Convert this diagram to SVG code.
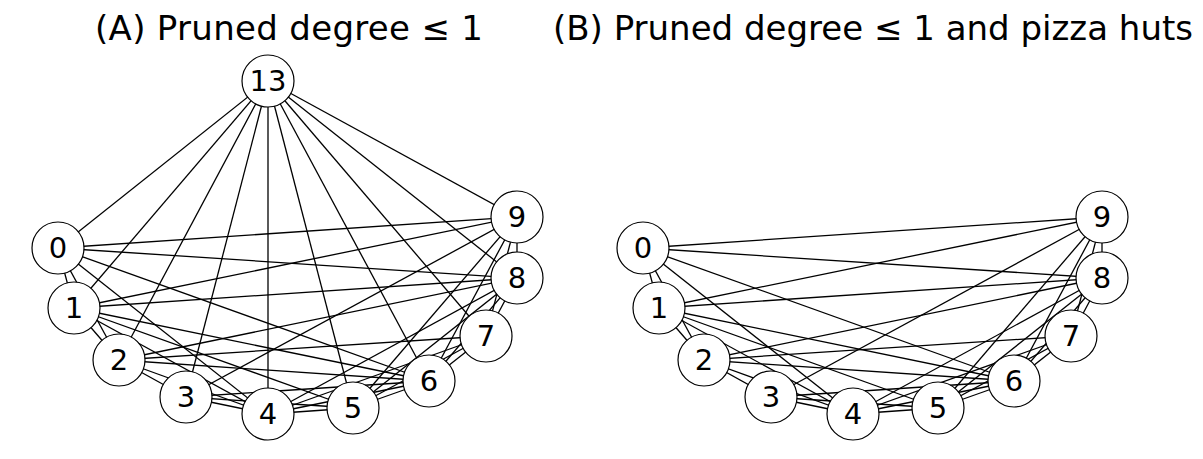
<svg xmlns="http://www.w3.org/2000/svg" width="1203" height="459" viewBox="0 0 1203 459">
<style>
.e{stroke:#000;stroke-width:1.3;fill:none}
.n circle{fill:#fff;stroke:#000;stroke-width:1.2}
.n text{font-family:"DejaVu Sans",sans-serif;font-size:29px;text-anchor:middle;dominant-baseline:central;fill:#000}
.t{font-family:"DejaVu Sans",sans-serif;font-size:34px;fill:#000}
</style>
<rect width="1203" height="459" fill="#fff"/>
<text class="t" x="95" y="40" textLength="388" lengthAdjust="spacing">(A) Pruned degree ≤ 1</text>
<text class="t" x="553" y="40" textLength="640" lengthAdjust="spacing">(B) Pruned degree ≤ 1 and pizza huts</text>
<defs>
<g id="edges10">
<line class="e" x1="58" y1="248" x2="74" y2="308"/>
<line class="e" x1="58" y1="248" x2="119" y2="360"/>
<line class="e" x1="58" y1="248" x2="268" y2="414"/>
<line class="e" x1="58" y1="248" x2="429" y2="381"/>
<line class="e" x1="58" y1="248" x2="517" y2="278"/>
<line class="e" x1="58" y1="248" x2="517" y2="217"/>
<line class="e" x1="74" y1="308" x2="119" y2="360"/>
<line class="e" x1="74" y1="308" x2="268" y2="414"/>
<line class="e" x1="74" y1="308" x2="353" y2="408"/>
<line class="e" x1="74" y1="308" x2="429" y2="381"/>
<line class="e" x1="74" y1="308" x2="517" y2="278"/>
<line class="e" x1="74" y1="308" x2="517" y2="217"/>
<line class="e" x1="119" y1="360" x2="186" y2="397"/>
<line class="e" x1="119" y1="360" x2="268" y2="414"/>
<line class="e" x1="119" y1="360" x2="429" y2="381"/>
<line class="e" x1="119" y1="360" x2="486" y2="336"/>
<line class="e" x1="119" y1="360" x2="517" y2="278"/>
<line class="e" x1="186" y1="397" x2="268" y2="414"/>
<line class="e" x1="186" y1="397" x2="353" y2="408"/>
<line class="e" x1="186" y1="397" x2="429" y2="381"/>
<line class="e" x1="186" y1="397" x2="517" y2="217"/>
<line class="e" x1="268" y1="414" x2="353" y2="408"/>
<line class="e" x1="268" y1="414" x2="429" y2="381"/>
<line class="e" x1="268" y1="414" x2="486" y2="336"/>
<line class="e" x1="268" y1="414" x2="517" y2="278"/>
<line class="e" x1="353" y1="408" x2="429" y2="381"/>
<line class="e" x1="353" y1="408" x2="486" y2="336"/>
<line class="e" x1="353" y1="408" x2="517" y2="278"/>
<line class="e" x1="353" y1="408" x2="517" y2="217"/>
<line class="e" x1="429" y1="381" x2="486" y2="336"/>
<line class="e" x1="429" y1="381" x2="517" y2="278"/>
<line class="e" x1="429" y1="381" x2="517" y2="217"/>
<line class="e" x1="486" y1="336" x2="517" y2="278"/>
<line class="e" x1="486" y1="336" x2="517" y2="217"/>
<line class="e" x1="517" y1="278" x2="517" y2="217"/>
</g>
</defs>
<g id="connectors">
<g id="connectorsA">
<use href="#edges10"/>
<line class="e" x1="268" y1="81" x2="58" y2="248"/>
<line class="e" x1="268" y1="81" x2="74" y2="308"/>
<line class="e" x1="268" y1="81" x2="119" y2="360"/>
<line class="e" x1="268" y1="81" x2="186" y2="397"/>
<line class="e" x1="268" y1="81" x2="268" y2="414"/>
<line class="e" x1="268" y1="81" x2="353" y2="408"/>
<line class="e" x1="268" y1="81" x2="429" y2="381"/>
<line class="e" x1="268" y1="81" x2="486" y2="336"/>
<line class="e" x1="268" y1="81" x2="517" y2="278"/>
<line class="e" x1="268" y1="81" x2="517" y2="217"/>
</g>
<g id="connectorsB" transform="translate(585,0)">
<use href="#edges10"/>
</g>
</g>
<g id="nodesA">
<g id="a13" class="n"><circle cx="268" cy="81" r="26"/><text x="268" y="81">13</text></g>
<g id="a0" class="n"><circle cx="58" cy="248" r="26"/><text x="58" y="248">0</text></g>
<g id="a1" class="n"><circle cx="74" cy="308" r="26"/><text x="74" y="308">1</text></g>
<g id="a2" class="n"><circle cx="119" cy="360" r="26"/><text x="119" y="360">2</text></g>
<g id="a3" class="n"><circle cx="186" cy="397" r="26"/><text x="186" y="397">3</text></g>
<g id="a4" class="n"><circle cx="268" cy="414" r="26"/><text x="268" y="414">4</text></g>
<g id="a5" class="n"><circle cx="353" cy="408" r="26"/><text x="353" y="408">5</text></g>
<g id="a6" class="n"><circle cx="429" cy="381" r="26"/><text x="429" y="381">6</text></g>
<g id="a7" class="n"><circle cx="486" cy="336" r="26"/><text x="486" y="336">7</text></g>
<g id="a8" class="n"><circle cx="517" cy="278" r="26"/><text x="517" y="278">8</text></g>
<g id="a9" class="n"><circle cx="517" cy="217" r="26"/><text x="517" y="217">9</text></g>
</g>
<g id="nodesB" transform="translate(585,0)">
<g id="b0" class="n"><circle cx="58" cy="248" r="26"/><text x="58" y="248">0</text></g>
<g id="b1" class="n"><circle cx="74" cy="308" r="26"/><text x="74" y="308">1</text></g>
<g id="b2" class="n"><circle cx="119" cy="360" r="26"/><text x="119" y="360">2</text></g>
<g id="b3" class="n"><circle cx="186" cy="397" r="26"/><text x="186" y="397">3</text></g>
<g id="b4" class="n"><circle cx="268" cy="414" r="26"/><text x="268" y="414">4</text></g>
<g id="b5" class="n"><circle cx="353" cy="408" r="26"/><text x="353" y="408">5</text></g>
<g id="b6" class="n"><circle cx="429" cy="381" r="26"/><text x="429" y="381">6</text></g>
<g id="b7" class="n"><circle cx="486" cy="336" r="26"/><text x="486" y="336">7</text></g>
<g id="b8" class="n"><circle cx="517" cy="278" r="26"/><text x="517" y="278">8</text></g>
<g id="b9" class="n"><circle cx="517" cy="217" r="26"/><text x="517" y="217">9</text></g>
</g>
</svg>
